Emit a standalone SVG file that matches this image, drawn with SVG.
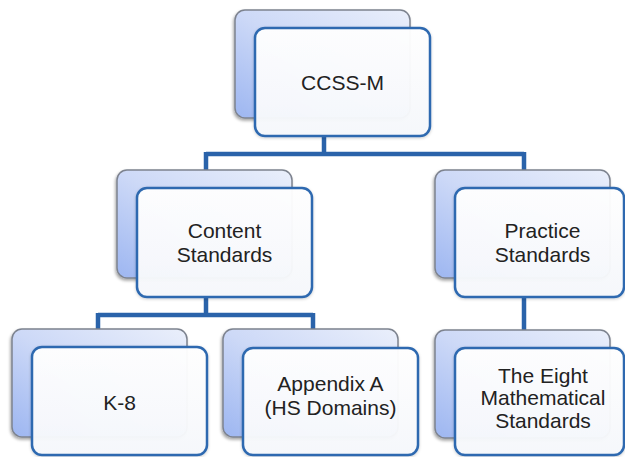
<svg xmlns="http://www.w3.org/2000/svg" width="625" height="457" viewBox="0 0 625 457">
<defs>
<linearGradient id="bg" x1="1" y1="0" x2="0" y2="1">
<stop offset="0" stop-color="#eaeffb"/>
<stop offset="0.5" stop-color="#cdd9f7"/>
<stop offset="1" stop-color="#9db6f1"/>
</linearGradient>
<linearGradient id="fg" x1="0" y1="0" x2="0" y2="1">
<stop offset="0" stop-color="#ffffff"/>
<stop offset="1" stop-color="#f6f8fc"/>
</linearGradient>
<filter id="sh" x="-10%" y="-10%" width="125%" height="130%">
<feDropShadow dx="-1" dy="2" stdDeviation="1.5" flood-color="#000" flood-opacity="0.35"/>
</filter>
<filter id="sh2" x="-10%" y="-10%" width="125%" height="130%">
<feDropShadow dx="0" dy="1" stdDeviation="1.5" flood-color="#000" flood-opacity="0.2"/>
</filter>
</defs>
<style>
.back{fill:url(#bg);stroke:#7d838f;stroke-width:1.5;filter:url(#sh)}
.front{fill:url(#fg);fill-opacity:0.96;stroke:#2d69b0;stroke-width:2.5;filter:url(#sh2)}
.conn{fill:none;stroke:#2a63aa;stroke-width:4.5}
text{font-family:"Liberation Sans",Arial,sans-serif;font-size:21px;fill:#222;text-anchor:middle}
</style>
<g id="connectors">
<path class="conn" d="M324,136 V154 M206,154 H524 M206,152 V188 M524,152 V188"/>
<path class="conn" d="M206,296 V315 M98,315 H313 M98,313 V347 M313,313 V348"/>
<path class="conn" d="M524,296 V348"/>
</g>
<g id="ccss-m">
<rect class="back" x="235" y="10" width="175" height="108" rx="10"/>
<rect class="front" x="255" y="28" width="175" height="108" rx="10"/>
<text x="342.5" y="90">CCSS-M</text>
</g>
<g id="content-standards">
<rect class="back" x="117" y="170" width="175" height="108" rx="10"/>
<rect class="front" x="137" y="188" width="175" height="109" rx="10"/>
<text x="224.5" y="238">Content</text>
<text x="224.5" y="262">Standards</text>
</g>
<g id="practice-standards">
<rect class="back" x="435" y="170" width="175" height="108" rx="10"/>
<rect class="front" x="455" y="188" width="169" height="109" rx="10"/>
<text x="542.5" y="238">Practice</text>
<text x="542.5" y="262">Standards</text>
</g>
<g id="k-8">
<rect class="back" x="12" y="329" width="175" height="108" rx="10"/>
<rect class="front" x="32" y="347" width="175" height="108" rx="10"/>
<text x="119.5" y="410">K-8</text>
</g>
<g id="appendix-a">
<rect class="back" x="223" y="329" width="175" height="108" rx="10"/>
<rect class="front" x="243" y="348" width="175" height="107" rx="10"/>
<text x="330.5" y="391">Appendix A</text>
<text x="330.5" y="415">(HS Domains)</text>
</g>
<g id="eight-standards">
<rect class="back" x="435" y="330" width="175" height="108" rx="10"/>
<rect class="front" x="455" y="348" width="169" height="107" rx="10"/>
<text x="543" y="383">The Eight</text>
<text x="543" y="405">Mathematical</text>
<text x="543" y="428">Standards</text>
</g>
</svg>
